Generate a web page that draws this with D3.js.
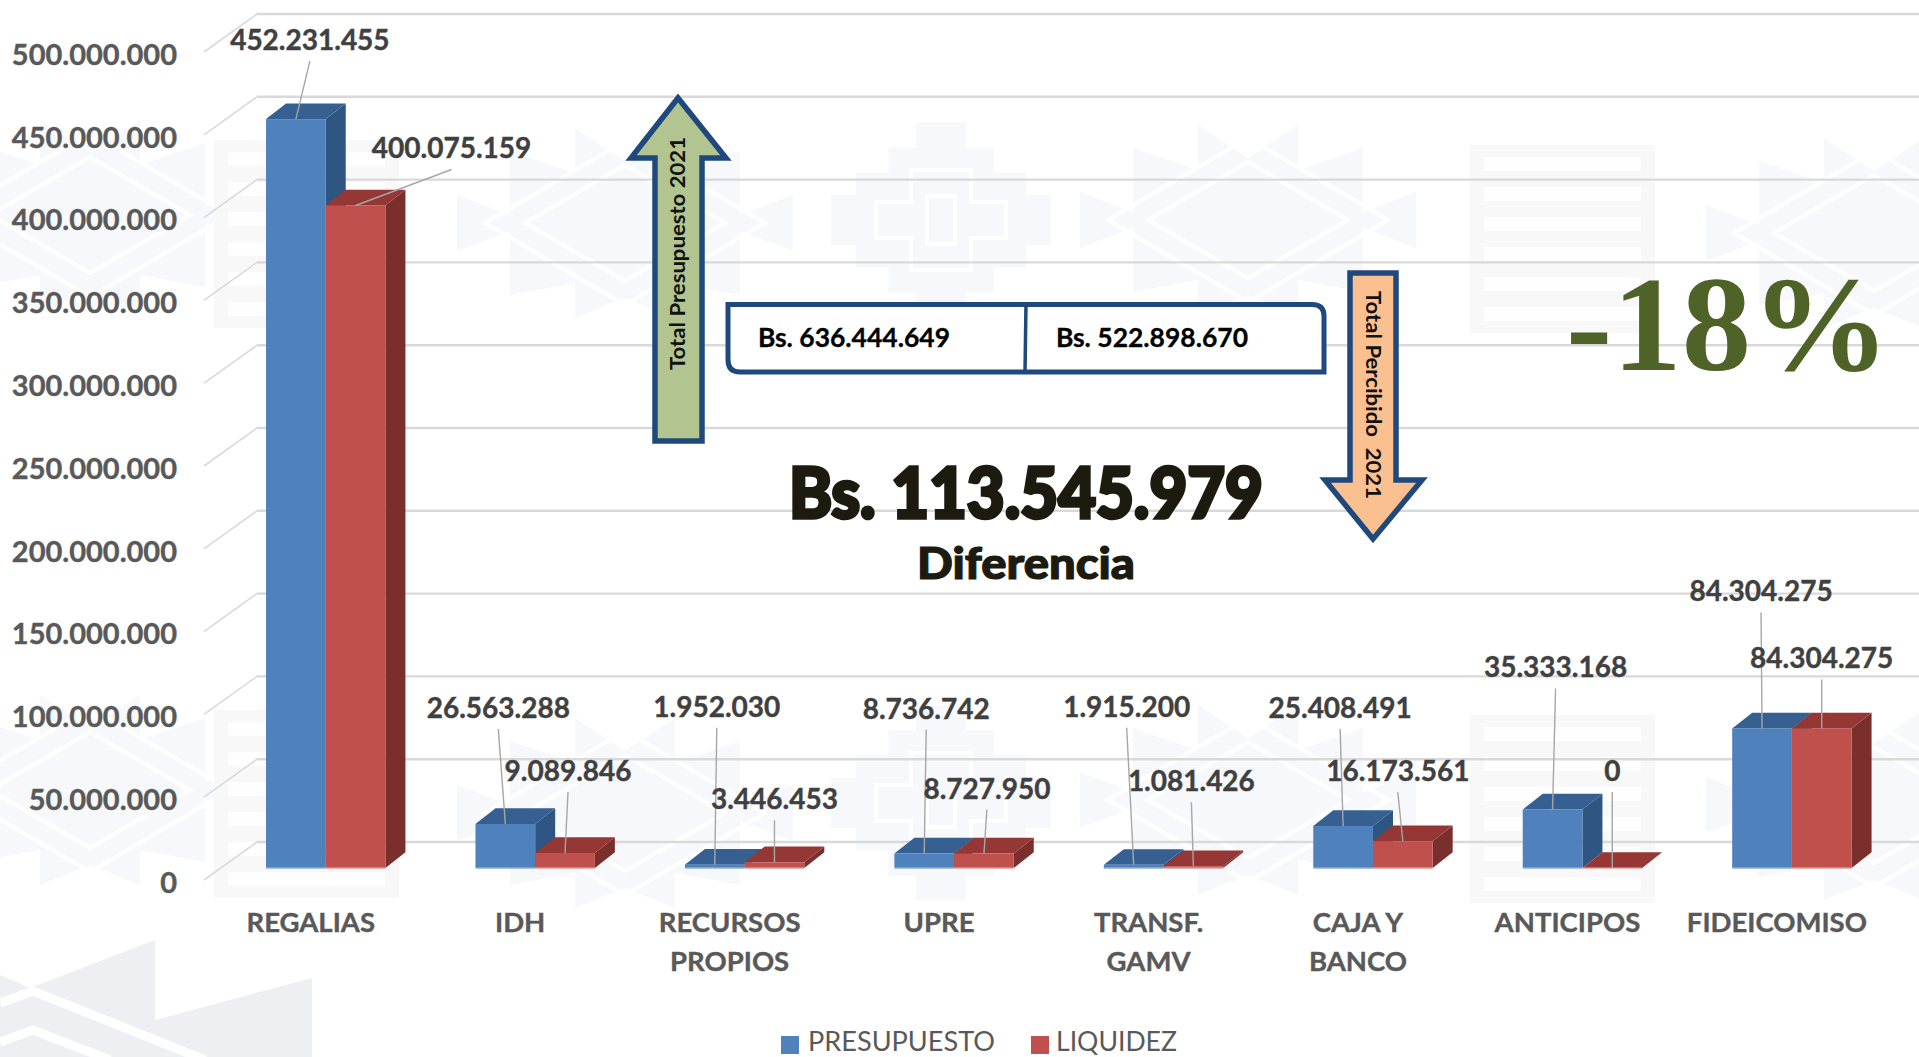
<!DOCTYPE html>
<html><head><meta charset="utf-8">
<script src="https://cdnjs.cloudflare.com/ajax/libs/d3/7.8.5/d3.min.js"></script>
<style>html,body{margin:0;padding:0;background:#fff;overflow:hidden}svg{display:block}text{font-family:Lato,"Open Sans",sans-serif}</style>
</head><body><svg id="c" width="1919" height="1057"></svg>
<script>
// ---- data ----
const categories = ["REGALIAS","IDH","RECURSOS PROPIOS","UPRE","TRANSF. GAMV","CAJA Y BANCO","ANTICIPOS","FIDEICOMISO"];
const categoryLines = [["REGALIAS"],["IDH"],["RECURSOS","PROPIOS"],["UPRE"],["TRANSF.","GAMV"],["CAJA Y","BANCO"],["ANTICIPOS"],["FIDEICOMISO"]];
const seriesNames = ["PRESUPUESTO","LIQUIDEZ"];
const presupuesto = [452231455,26563288,1952030,8736742,1915200,25408491,35333168,84304275];
const liquidez = [400075159,9089846,3446453,8727950,1081426,16173561,0,84304275];
const yTicks = [0,50e6,100e6,150e6,200e6,250e6,300e6,350e6,400e6,450e6,500e6];
const totalPresupuesto = "Bs. 636.444.649";
const totalPercibido = "Bs. 522.898.670";
const diferencia = "Bs. 113.545.979";
const variacion = "-18%";
// ---- label placement, relative to the top centre of each bar ----
const presLabelDx = [14,-7,2,2,-7,-3,3,-1];
const presLabelDy = [-80,-117,-159,-146,-159,-119,-143,-138];
const liqLabelDx = [96,3,0,3,-2,-5,0,0];
const liqLabelDy = [-58,-83,-64,-66,-86,-71,-98,-71];

const svg = d3.select("#c");
const fmt = v => d3.format(",")(v).replace(/,/g,".");
const colors = {
  PRESUPUESTO:{front:"#4f81bd",top:"#376092",side:"#2f5582"},
  LIQUIDEZ:{front:"#c0504d",top:"#953735",side:"#7b2f2d"}
};
const depthX = 20, depthY = 15.7, backY = 26;

// ---- watermark ----
const wm = svg.append("g");
const pale = "#f7f8fb";
function motifX(cx,cy){
  const g = wm.append("g").attr("transform",`translate(${cx},${cy})`);
  g.append("path").attr("fill",pale).attr("d","M-168,-28L-115,-8L-115,-72L-50,-50L-50,-95L0,-62L50,-95L50,-50L115,-72L115,-8L168,-28L168,28L115,8L115,72L50,60L50,95L0,75L-50,95L-50,60L-115,72L-115,8L-168,28Z");
  [[140,82],[100,58]].forEach(d=>g.append("path").attr("fill","none").attr("stroke","#fff").attr("stroke-width",4)
    .attr("d",`M${-d[0]},0L0,${-d[1]}L${d[0]},0L0,${d[1]}Z`));
}
function motifM(x0,y0){
  const g = wm.append("g").attr("transform",`translate(${x0},${y0})`);
  g.append("rect").attr("width",185).attr("height",188).attr("fill","#f8f8f9");
  d3.range(6).forEach(i=>g.append("rect").attr("x",14).attr("y",12+i*30).attr("width",157).attr("height",14).attr("fill","#fff").attr("opacity",.8));
}
function motifS(cx,cy){
  const g = wm.append("g").attr("transform",`translate(${cx},${cy})`);
  [[220,50],[170,95],[105,145],[50,195]].forEach(d=>g.append("rect").attr("x",-d[0]/2).attr("y",-d[1]/2).attr("width",d[0]).attr("height",d[1]).attr("fill",pale));
  g.append("path").attr("fill","none").attr("stroke","#fff").attr("stroke-width",4).attr("d","M-65,-18H-30V-50H30V-18H65V18H30V50H-30V18H-65Z");
  g.append("rect").attr("x",-14).attr("y",-24).attr("width",28).attr("height",48).attr("fill","none").attr("stroke","#fff").attr("stroke-width",4);
}
[[90,215],[625,223],[1248,220],[1874,233],[90,790],[625,813],[1248,800],[1874,805]].forEach(d=>motifX(d[0],d[1]));
[[214,140],[214,710],[1470,145],[1470,715]].forEach(d=>motifM(d[0],d[1]));
[[941,220],[941,803]].forEach(d=>motifS(d[0],d[1]));
const corner = wm.append("g");
corner.append("path").attr("fill","#eeeff3").attr("d","M0,975L30,988L155,940L155,1020L312,978L312,1057L0,1057Z");
corner.append("path").attr("fill","none").attr("stroke","#fff").attr("stroke-width",9).attr("d","M0,1003L33,991L205,1060");
corner.append("path").attr("fill","none").attr("stroke","#fff").attr("stroke-width",9).attr("d","M0,1042L33,1030L110,1060");

// ---- scales ----
const x0 = d3.scaleBand().domain(categories).range([221,1896.6]).paddingInner(.43).paddingOuter(.215);
const x1 = d3.scaleBand().domain(seriesNames).range([0,x0.bandwidth()]);
const y = d3.scaleLinear().domain([0,500e6]).range([868,40]);

// ---- grid ----
const grid = svg.append("g");
grid.selectAll("line.h").data(yTicks).join("line").attr("class","h")
  .attr("x1",257).attr("x2",1919).attr("y1",d=>y(d)-backY).attr("y2",d=>y(d)-backY)
  .attr("stroke","#d9d9d9").attr("stroke-width",2.4);
grid.selectAll("line.d").data(yTicks).join("line").attr("class","d")
  .attr("x1",204).attr("x2",257).attr("y1",d=>y(d)+12).attr("y2",d=>y(d)-backY)
  .attr("stroke","#d9d9d9").attr("stroke-width",1.6);

// ---- axes ----
const yAxis = svg.append("g").attr("transform","translate(177,15)")
  .call(d3.axisLeft(y).tickValues(yTicks).tickSize(0).tickPadding(0).tickFormat(fmt));
yAxis.select(".domain").remove();
yAxis.selectAll("text").attr("font-size",29).attr("font-weight",700).attr("fill","#595959").attr("stroke","#595959").attr("stroke-width",.4).attr("font-family","Lato");

const xAxis = svg.append("g").attr("transform",`translate(-15,912)`)
  .call(d3.axisBottom(x0).tickSize(0).tickPadding(0));
xAxis.select(".domain").remove();
xAxis.selectAll("text").each(function(d,k){
  const t = d3.select(this).text(null).attr("dy",null).attr("y",null)
    .attr("font-size",27.5).attr("font-weight",700).attr("fill","#595959").attr("stroke","#595959").attr("stroke-width",.4).attr("font-family","Lato");
  categoryLines[k].forEach((l,i)=>t.append("tspan").attr("x",0).attr("y",20+i*39).text(l));
});

// ---- bars ----
const rows = [];
categories.forEach((c,i)=>{
  rows.push({c,i,s:"PRESUPUESTO",v:presupuesto[i],dx:presLabelDx[i],dy:presLabelDy[i]});
  rows.push({c,i,s:"LIQUIDEZ",v:liquidez[i],dx:liqLabelDx[i],dy:liqLabelDy[i]});
});
const bars = svg.append("g").selectAll("g").data(rows).join("g");
const bx = d=>x0(d.c)+x1(d.s), bw = x1.bandwidth();
bars.append("path").attr("fill",d=>colors[d.s].side).attr("d",d=>{
  const X=bx(d)+bw,T=y(d.v),B=y(0);
  return `M${X},${T}L${X+depthX},${T-depthY}L${X+depthX},${B-depthY}L${X},${B}Z`;
});
bars.append("path").attr("fill",d=>colors[d.s].top).attr("d",d=>{
  const X=bx(d),T=y(d.v);
  return `M${X},${T}L${X+depthX},${T-depthY}L${X+bw+depthX},${T-depthY}L${X+bw},${T}Z`;
});
bars.append("rect").attr("x",bx).attr("width",bw).attr("y",d=>y(d.v)).attr("height",d=>y(0)-y(d.v)).attr("fill",d=>colors[d.s].front);
// base highlight
bars.append("rect").attr("x",bx).attr("width",bw).attr("y",y(0)-.5).attr("height",1.5).attr("fill",d=>d.s==="PRESUPUESTO"?"#a9c2e0":"#e3b5b3");

// ---- leaders & labels ----
const ann = svg.append("g");
ann.selectAll("line").data(rows).join("line")
  .attr("x1",d=>bx(d)+bw/2+d.dx).attr("y1",d=>y(d.v)+d.dy+22)
  .attr("x2",d=>bx(d)+bw/2).attr("y2",d=>y(d.v))
  .attr("stroke","#a6a6a6").attr("stroke-width",1.4);
ann.selectAll("text").data(rows).join("text")
  .attr("x",d=>bx(d)+bw/2+d.dx).attr("y",d=>y(d.v)+d.dy+11)
  .attr("text-anchor","middle").attr("font-size",28).attr("font-weight",700).attr("fill","#404040").attr("stroke","#404040").attr("stroke-width",.4)
  .text(d=>fmt(d.v));

// ---- arrows ----
const navy = "#1f497d";
svg.append("path").attr("fill","#b2c48f").attr("stroke",navy).attr("stroke-width",5.5)
  .attr("d","M678,98L631,158H655V441H702V158H726Z");
svg.append("text").attr("transform","translate(685,253.5) rotate(-90)").attr("text-anchor","middle")
  .attr("font-size",20).attr("font-weight",700).attr("fill","#111").attr("textLength",233).attr("lengthAdjust","spacingAndGlyphs").text("Total Presupuesto 2021");
svg.append("path").attr("fill","#fac090").attr("stroke",navy).attr("stroke-width",5.5)
  .attr("d","M1350,273H1396V480H1422L1373,539L1325,480H1350Z");
svg.append("text").attr("transform","translate(1366,395) rotate(90)").attr("text-anchor","middle")
  .attr("font-size",20).attr("font-weight",700).attr("fill","#111").attr("textLength",208).attr("lengthAdjust","spacingAndGlyphs").attr("xml:space","preserve").text("Total Percibido  2021");

// ---- total box ----
svg.append("path").attr("fill","#fff").attr("stroke",navy).attr("stroke-width",5)
  .attr("d","M728,304.5H1312Q1324,304.5 1324,316V372H740Q728,372 728,360Z");
svg.append("line").attr("x1",1026).attr("x2",1025).attr("y1",304).attr("y2",372).attr("stroke",navy).attr("stroke-width",3.5);
[[758,totalPresupuesto],[1056,totalPercibido]].forEach(d=>svg.append("text").attr("x",d[0]).attr("y",347)
  .attr("font-size",26).attr("font-weight",700).attr("fill","#000").attr("stroke","#000").attr("stroke-width",.3).attr("textLength",192).attr("lengthAdjust","spacingAndGlyphs").text(d[1]));

// ---- callouts ----
svg.append("text").attr("x",789).attr("y",518).attr("font-size",70).attr("font-weight",900).attr("fill","#1d1b10")
  .attr("stroke","#1d1b10").attr("stroke-width",3.5).attr("textLength",474).attr("lengthAdjust","spacingAndGlyphs").text(diferencia);
svg.append("text").attr("x",917).attr("y",579).attr("font-size",44).attr("font-weight",900).attr("fill","#1d1b10")
  .attr("stroke","#1d1b10").attr("stroke-width",1.2).attr("textLength",218).attr("lengthAdjust","spacingAndGlyphs").text("Diferencia");
svg.append("text").attr("x",1566).attr("y",370).attr("font-size",135).attr("font-weight",700).attr("fill","#4f6228")
  .style("font-family","'Liberation Serif',serif").attr("textLength",324).attr("lengthAdjust","spacingAndGlyphs").text(variacion);

// ---- legend ----
const legend = svg.append("g");
[[781,808,seriesNames[0],187],[1031,1056,seriesNames[1],121]].forEach(d=>{
  legend.append("rect").attr("x",d[0]).attr("y",1036).attr("width",18).attr("height",18).attr("fill",colors[d[2]].front);
  legend.append("text").attr("x",d[1]).attr("y",1051).attr("font-size",26).attr("fill","#595959")
    .attr("textLength",d[3]).attr("lengthAdjust","spacingAndGlyphs").text(d[2]);
});
</script></body></html>
